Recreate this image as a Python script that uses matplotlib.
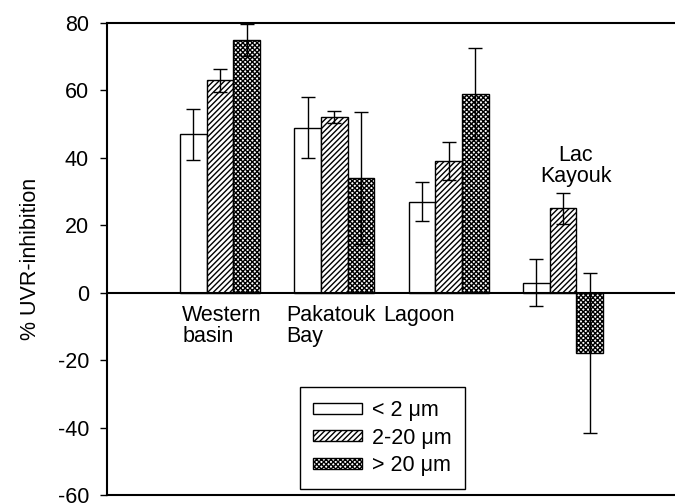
import numpy as np
import matplotlib
matplotlib.use("Agg")
import matplotlib.pyplot as plt

# data
sites = ["Western\nbasin", "Pakatouk\nBay", "Lagoon", "Lac\nKayouk"]
series = ["< 2 μm", "2-20 μm", "> 20 μm"]
small = [47, 49, 27, 3]
small_err = [7.5, 9, 5.7, 7]
mid = [63, 52, 39, 25]
mid_err = [3.5, 1.8, 5.6, 4.5]
large = [75, 34, 59, -18]
large_err = [4.7, 19.5, 13.5, 23.7]

plt.rcParams["font.family"] = ["Liberation Sans", "DejaVu Sans"]
plt.rcParams["hatch.linewidth"] = 1.0
plt.rcParams["axes.unicode_minus"] = False

fs = 15.5
fig = plt.figure(figsize=(6.75, 5.04), dpi=100)
ax = fig.add_axes([107 / 675, 9 / 504, 1 - 107 / 675, 472 / 504])

x = np.arange(1, len(sites) + 1)
w = 0.2336
hatches = ["", "//////", "xxxxxxx"]
values = [small, mid, large]
errors = [small_err, mid_err, large_err]

for i in range(3):
    ax.bar(x + (i - 1) * w, values[i], w, yerr=errors[i],
           color="white", edgecolor="black", linewidth=1.0,
           hatch=hatches[i], label=series[i],
           error_kw=dict(ecolor="black", elinewidth=1.0, capsize=5, capthick=1.0))

ax.axhline(0, color="black", linewidth=1.5)

# category labels placed inside the axes like the original
ax.text(x[0] - 0.33, -3.5, sites[0], ha="left", va="top", fontsize=fs, linespacing=1.0)
ax.text(x[1] - 0.42, -3.5, sites[1], ha="left", va="top", fontsize=fs, linespacing=1.0)
ax.text(x[2] - 0.57, -3.5, sites[2], ha="left", va="top", fontsize=fs, linespacing=1.0)
ax.text(x[3] + 0.11, 31.5, sites[3], ha="center", va="bottom", fontsize=fs, linespacing=1.0)

ax.set_xlim(0.0114, 4.98)
ax.set_ylim(-60, 80)
ax.set_yticks(np.arange(-60, 81, 20))
ax.set_xticks([])
ax.tick_params(axis="y", direction="out", length=5, width=1, labelsize=fs, pad=8)
ax.set_ylabel("% UVR-inhibition", fontsize=fs, labelpad=12)

ax.spines["right"].set_visible(False)
for s in ["left", "top", "bottom"]:
    ax.spines[s].set_linewidth(1.5)

leg = ax.legend(loc="lower left", bbox_to_anchor=((300 - 107) / 568, (504 - 489 - 9) / 472),
                fontsize=fs, fancybox=False, edgecolor="black", framealpha=1,
                handlelength=2.3, handleheight=0.4, labelspacing=0.3,
                borderpad=0.6, handletextpad=0.45, borderaxespad=0)
leg.get_frame().set_linewidth(1.0)

fig.savefig("out.png", dpi=100)
